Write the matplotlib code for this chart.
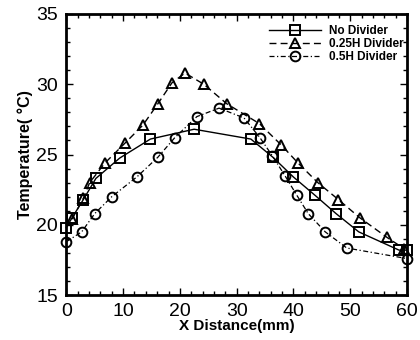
import numpy as np
import matplotlib.pyplot as plt
from matplotlib.ticker import MultipleLocator

plt.rcParams['font.family'] = ['Liberation Sans', 'DejaVu Sans']

# No Divider
x_no = [0, 1, 3, 5.2, 9.4, 14.8, 22.5, 32.5, 36.4, 40, 43.8, 47.5, 51.5, 58.6, 60]
t_no = [19.8, 20.5, 21.8, 23.3, 24.75, 26.1, 26.8, 26.1, 24.8, 23.4, 22.1, 20.8, 19.5, 18.2, 18.2]

# 0.25H Divider
x_q = [1, 3, 4.1, 6.8, 10.3, 13.5, 16.1, 18.6, 20.9, 24.2, 28.3, 34, 37.8, 40.8, 44.3, 47.9, 51.7, 56.5, 59.5]
t_q = [20.4, 21.9, 23.0, 24.4, 25.8, 27.1, 28.6, 30.1, 30.8, 30.0, 28.6, 27.2, 25.7, 24.4, 23.0, 21.8, 20.5, 19.1, 18.3]

# 0.5H Divider
x_h = [0, 2.7, 5, 8, 12.4, 16.1, 19.1, 23, 26.9, 31.3, 34.1, 36.3, 38.5, 40.6, 42.6, 45.6, 49.4, 60]
t_h = [18.8, 19.5, 20.8, 22.0, 23.4, 24.8, 26.2, 27.7, 28.3, 27.6, 26.2, 24.9, 23.5, 22.1, 20.8, 19.5, 18.35, 17.6]

fig = plt.figure(figsize=(4.2, 3.4), dpi=100)
ax = fig.add_axes([0.158, 0.132, 0.811, 0.827])

mk = dict(markersize=7, markerfacecolor='none', markeredgecolor='black',
          markeredgewidth=1.4, color='black', clip_on=False)
ax.plot(x_no, t_no, '-', marker='s', lw=1.0, label='No Divider', **mk)
ax.plot(x_q, t_q, '--', marker='^', lw=1.0, dashes=(5, 3), label='0.25H Divider', **mk)
ax.plot(x_h, t_h, '-.', marker='o', lw=0.9, dashes=(4, 2, 1, 2), label='0.5H Divider', **mk)

ax.set_xlim(0, 60)
ax.set_ylim(15, 35)
ax.xaxis.set_major_locator(MultipleLocator(10))
ax.xaxis.set_minor_locator(MultipleLocator(2))
ax.yaxis.set_major_locator(MultipleLocator(5))
ax.yaxis.set_minor_locator(MultipleLocator(1))
ax.tick_params(which='both', direction='in', top=True, right=True, width=1.0)
ax.tick_params(which='major', length=5, labelsize=14, pad=6)
ax.tick_params(which='minor', length=3)
for s in ax.spines.values():
    s.set_linewidth(2)

ax.set_xlabel('X Distance(mm)', fontsize=11, fontweight='bold', labelpad=-1)
ax.set_ylabel('Temperature( \u00b0C)', fontsize=11.5, fontweight='bold', labelpad=2)

ax.legend(loc='upper left', bbox_to_anchor=(0.57, 0.99), frameon=False,
          prop={'size': 8.5, 'weight': 'bold'}, handlelength=4.4,
          handletextpad=0.7, labelspacing=0.1, borderpad=0.2)

fig.savefig('out.png', dpi=100)
